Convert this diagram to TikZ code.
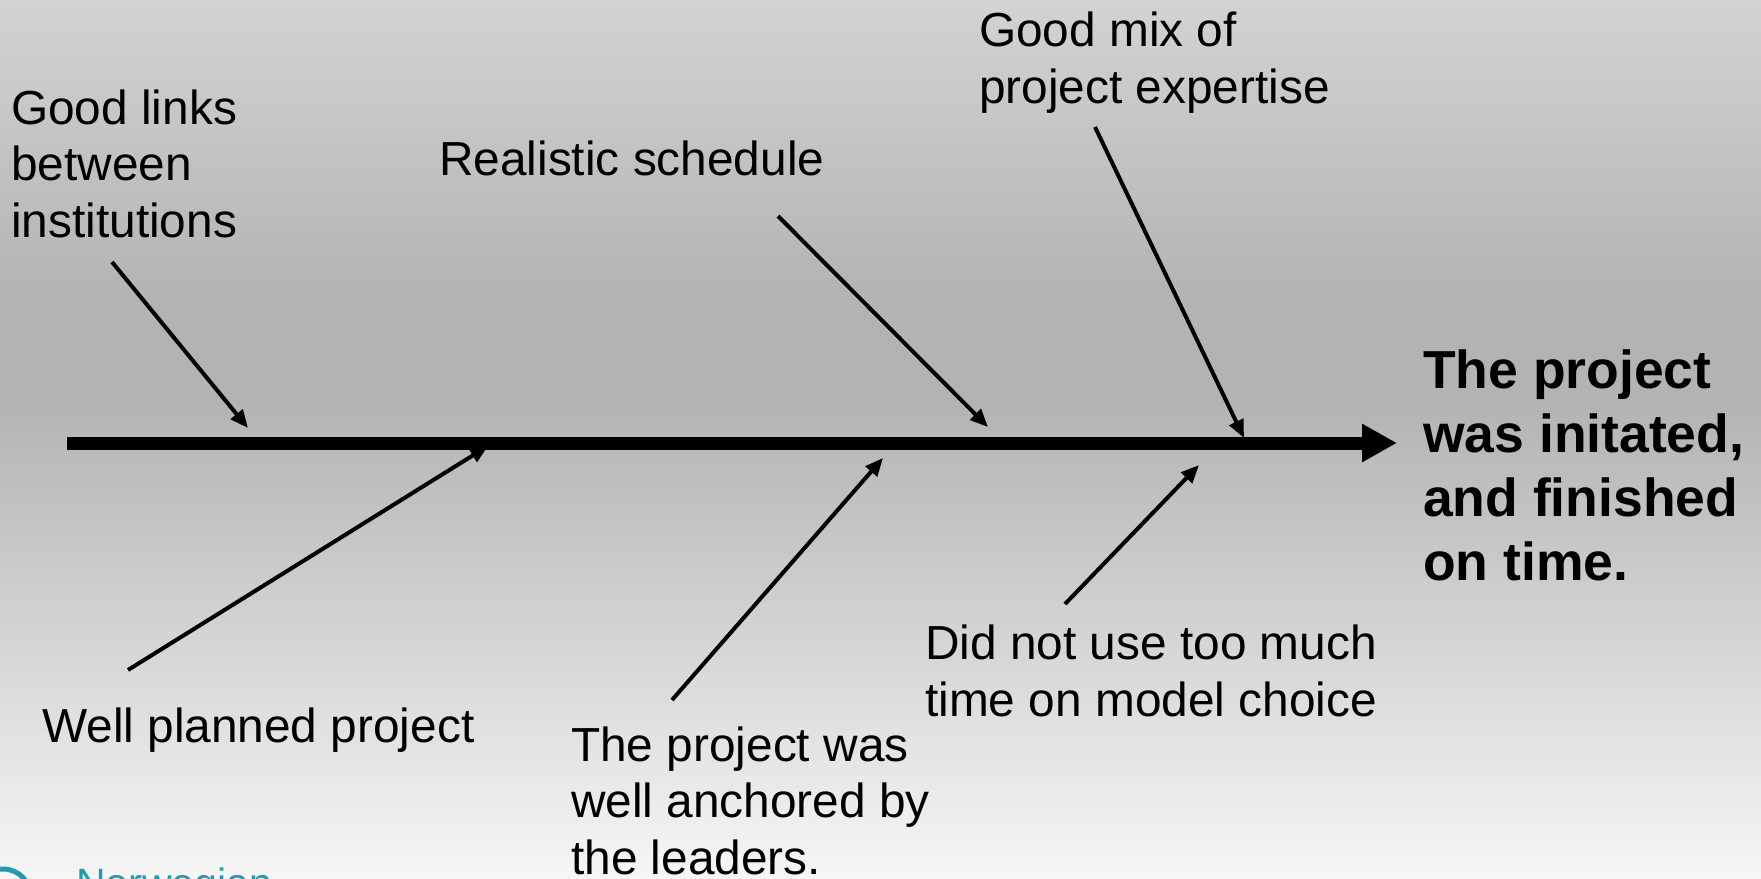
\documentclass[tikz,border=0pt]{standalone}
\usepackage{fontspec}
\setmainfont{Liberation Sans}
\usetikzlibrary{arrows.meta}

\definecolor{bgtop}{RGB}{211,211,211}
\definecolor{bgmid}{RGB}{179,179,179}
\definecolor{bgbot}{RGB}{246,246,246}
\definecolor{logoteal}{RGB}{32,155,175}

% slide background: light at the top, darkest around the spine, nearly white at the bottom
\pgfdeclareverticalshading{slidebg}{100bp}{color(0bp)=(bgbot); color(25bp)=(bgbot); color(52.2bp)=(bgmid); color(57.9bp)=(bgmid); color(75bp)=(bgtop); color(100bp)=(bgtop)}

\begin{document}
\begin{tikzpicture}[x=1pt,y=-1pt,
  % multi-line nodes sit on the baseline of their last line
  cause/.style={inner sep=0pt, anchor=base west, align=left, font=\fontsize{47.8}{56.5}\selectfont},
  effect/.style={inner sep=0pt, anchor=base west, align=left, font=\bfseries\fontsize{53.5}{64}\selectfont},
  spine/.style={line width=13pt, -{Triangle[length=35pt,width=36pt]}},
  bone/.style={line width=4pt, -{Triangle[length=18pt,width=15pt]}}]

\useasboundingbox (0,0) rectangle (1761,878);
\shade[shading=slidebg] (0,0) rectangle (1761,878);

\begin{scope}
\clip (0,0) rectangle (1761,878);

% labels
\node[cause] (links) at (11,237) {Good links\\between\\institutions};
\node[cause] (sched) at (439,175) {Realistic schedule};
\node[cause] (mix) at (979,103) {Good mix of\\project expertise};
\node[cause] (plan) at (42,742) {Well planned project};
\node[cause] (anchor) at (571,874) {The project was\\well anchored by\\the leaders.};
\node[cause] (model) at (925,716) {Did not use too much\\time on model choice};
\node[effect] (goal) at (1423,580) {The project\\was initated,\\and finished\\on time.};

% footer logo
\node[inner sep=0pt, anchor=base west, text=logoteal, font=\fontsize{41}{49}\selectfont] (logo) at (76,897) {Norwegian};
\draw[logoteal, line width=5pt] (3,897) circle[radius=28];
\end{scope}

% spine
\coordinate (spineL) at (67,443);
\coordinate (spineR) at (1397,443);
\draw[spine] (spineL) -- (spineR);

% bone end points
\coordinate (linksS) at (112,262);  \coordinate (linksT) at (248,428);
\coordinate (schedS) at (778,216);  \coordinate (schedT) at (988,427);
\coordinate (mixS)   at (1095,127); \coordinate (mixT)   at (1244,438);
\coordinate (planS)  at (128,670);  \coordinate (planT)  at (488,446);
\coordinate (anchS)  at (672,700);  \coordinate (anchT)  at (883,458);
\coordinate (modelS) at (1065,604); \coordinate (modelT) at (1199,465);

\draw[bone] (linksS) -- (linksT);
\draw[bone] (schedS) -- (schedT);
\draw[bone] (mixS) -- (mixT);
\draw[bone] (planS) -- (planT);
\draw[bone] (anchS) -- (anchT);
\draw[bone] (modelS) -- (modelT);
\end{tikzpicture}
\end{document}
